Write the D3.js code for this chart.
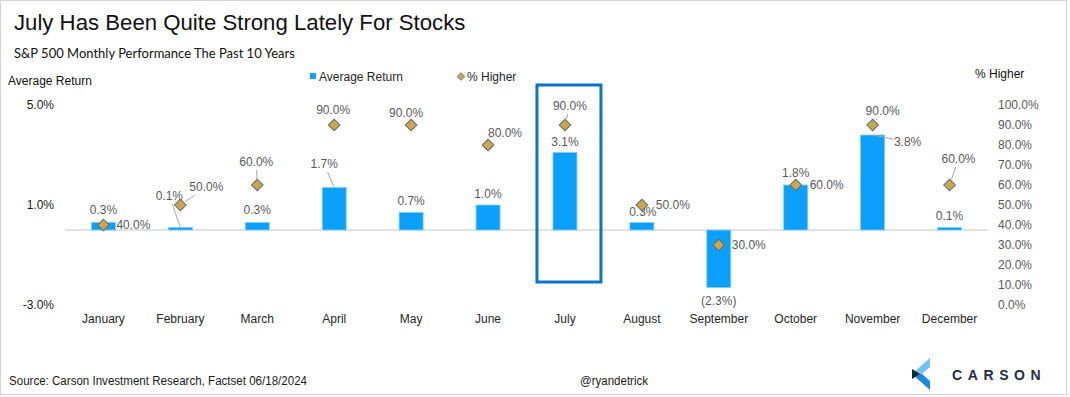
<!DOCTYPE html>
<html>
<head>
<meta charset="utf-8">
<script src="https://cdn.jsdelivr.net/npm/d3@7"></script>
<style>
  html, body { margin: 0; padding: 0; background: #fff; }
  svg text { font-family: "Liberation Sans", Arial, sans-serif; }
</style>
</head>
<body>
<svg id="chart" width="1070" height="397"></svg>
<script>
// data
const months = ["January", "February", "March", "April", "May", "June",
    "July", "August", "September", "October", "November", "December"];
const avgReturn = [0.3, 0.1, 0.3, 1.7, 0.7, 1.0, 3.1, 0.3, -2.3, 1.8, 3.8, 0.1];
const pctHigher = [40, 50, 60, 90, 90, 80, 90, 50, 30, 60, 90, 60];
const leftTicks = [-3, 1, 5];
const rightTicks = [0, 10, 20, 30, 40, 50, 60, 70, 80, 90, 100];

// label placement (Excel put these by hand, so do we): [dx, dy, leader]
const returnLabelNudge = [[0, -12.5], [-11, -31.5, true], [0, -12.5], [-10, -23.5, true],
    [0, -11.5], [0, -11], [0, -10.5], [1, -10.5], [0, 13.5], [0, -12], [35, 7, true], [0, -11.5]];
const pctLabelNudge = [[30, 0], [26, -18, true], [-1, -23, true], [-1, -15], [-5, -12],
    [17, -12], [5, -19, true], [31, 0], [30, 0], [31, 0], [10, -14, true], [9, -26, true]];

const svg = d3.select("#chart");

const x = d3.scaleBand().domain(months).range([65, 988])
    .paddingInner(0.688).paddingOuter(0.344);
const y = d3.scaleLinear().domain([-3, 5]).range([305, 105]);
const y2 = d3.scaleLinear().domain([0, 100]).range([305, 105]);
const cx = m => x(m) + x.bandwidth() / 2;

// frame
svg.append("rect")
    .attr("x", 0.5).attr("y", 0.5).attr("width", 1066).attr("height", 394)
    .attr("fill", "none").attr("stroke", "#d4d4d4");

// titles
svg.append("text").attr("x", 14).attr("y", 30)
    .style("font-size", "22.2px").attr("fill", "#111")
    .text("July Has Been Quite Strong Lately For Stocks");
svg.append("text").attr("x", 14).attr("y", 58)
    .style("font-family", "Lato, 'Open Sans', sans-serif").style("font-size", "13px").attr("fill", "#111")
    .text("S&P 500 Monthly Performance The Past 10 Years");
svg.append("text").attr("x", 8).attr("y", 85)
    .style("font-size", "12px").attr("fill", "#111")
    .text("Average Return");
svg.append("text").attr("x", 975).attr("y", 78)
    .style("font-size", "12px").attr("fill", "#111")
    .text("% Higher");

// legend
const legend = svg.append("g");
legend.append("rect").attr("x", 310).attr("y", 73).attr("width", 6).attr("height", 6).attr("fill", "#0aa0fb");
legend.append("text").attr("x", 319).attr("y", 81).style("font-size", "12px").attr("fill", "#262626").text("Average Return");
legend.append("path").attr("transform", "translate(461,76.5) rotate(45)")
    .attr("d", d3.symbol(d3.symbolSquare, 30)())
    .attr("fill", "#c9a74f").attr("stroke", "#6b6b6b").attr("stroke-width", 0.8);
legend.append("text").attr("x", 467).attr("y", 81).style("font-size", "12px").attr("fill", "#262626").text("% Higher");

// axes
const leftAxis = svg.append("g").attr("transform", "translate(58,0)")
    .call(d3.axisLeft(y).tickValues(leftTicks).tickSize(0).tickPadding(4)
        .tickFormat(d => d.toFixed(1) + "%"));
leftAxis.select(".domain").remove();
leftAxis.selectAll("text").style("font-size", "12px").style("font-family", "Liberation Sans, Arial, sans-serif").attr("fill", "#1a1a1a");

const rightAxis = svg.append("g").attr("transform", "translate(998,0)")
    .call(d3.axisRight(y2).tickValues(rightTicks).tickSize(0).tickPadding(0)
        .tickFormat(d => d.toFixed(1) + "%"));
rightAxis.select(".domain").remove();
rightAxis.selectAll("text").style("font-size", "12px").style("font-family", "Liberation Sans, Arial, sans-serif").attr("fill", "#595959");

const monthAxis = svg.append("g").attr("transform", "translate(0,311)")
    .call(d3.axisBottom(x).tickSize(0).tickPadding(3));
monthAxis.select(".domain").remove();
monthAxis.selectAll("text").style("font-size", "12px").style("font-family", "Liberation Sans, Arial, sans-serif").attr("fill", "#262626");

// zero line
svg.append("line")
    .attr("x1", 65).attr("x2", 988).attr("y1", y(0)).attr("y2", y(0))
    .attr("stroke", "#d9d9d9").attr("stroke-width", 1.5);

// bars
svg.append("g").selectAll("rect")
    .data(months)
    .join("rect")
    .attr("x", m => x(m))
    .attr("width", x.bandwidth())
    .attr("y", (m, i) => y(Math.max(0, avgReturn[i])))
    .attr("height", (m, i) => Math.abs(y(avgReturn[i]) - y(0)))
    .attr("fill", "#0aa0fb")
    .attr("stroke", "#7fcfff").attr("stroke-width", 0.8);

// July highlight box
svg.append("rect")
    .attr("x", cx("July") - 28).attr("y", y(5) - 20)
    .attr("width", 64).attr("height", y(-3) - y(5) - 3)
    .attr("fill", "none").attr("stroke", "#0b74c9").attr("stroke-width", 3);

// leader line helper: from label box edge to the mark
function leader(g, lx, ly, ax, ay, hw, gap) {
    const dx = ax - lx, dy = ay - ly;
    const t = Math.min(dx ? (hw + 1) / Math.abs(dx) : 9, dy ? 8 / Math.abs(dy) : 9);
    const len = Math.hypot(dx, dy);
    g.append("line")
        .attr("x1", lx + dx * t).attr("y1", ly + dy * t)
        .attr("x2", ax - dx / len * gap).attr("y2", ay - dy / len * gap)
        .attr("stroke", "#a6a6a6").attr("stroke-width", 1);
}

const labels = svg.append("g");

// diamonds
svg.append("g").selectAll("path")
    .data(months)
    .join("path")
    .attr("transform", (m, i) => `translate(${cx(m)},${y2(pctHigher[i])}) rotate(45)`)
    .attr("d", d3.symbol(d3.symbolSquare, 68)())
    .attr("fill", "#c9a74f").attr("stroke", "#6b6b6b").attr("stroke-width", 1);

// labels
months.forEach((m, i) => {
    const v = avgReturn[i];
    const ax = cx(m), ay = y(v);
    const [dx, dy, hasLine] = returnLabelNudge[i];
    const txt = v < 0 ? "(" + Math.abs(v).toFixed(1) + "%)" : v.toFixed(1) + "%";
    if (hasLine) leader(labels, ax + dx, ay + dy, ax, ay, 13, 0);
    labels.append("text")
        .attr("x", ax + dx).attr("y", ay + dy).attr("dy", "0.35em")
        .attr("text-anchor", "middle")
        .style("font-size", "12px").attr("fill", "#595959")
        .text(txt);

    const p = pctHigher[i];
    const px = cx(m), py = y2(p);
    const [pdx, pdy, pLine] = pctLabelNudge[i];
    if (pLine) leader(labels, px + pdx, py + pdy, px, py, 17, 6);
    labels.append("text")
        .attr("x", px + pdx).attr("y", py + pdy).attr("dy", "0.35em")
        .attr("text-anchor", "middle")
        .style("font-size", "12px").attr("fill", "#595959")
        .text(p.toFixed(1) + "%");
});

// footer (condensed look, squeezed to the width in the picture)
svg.append("text").attr("x", 9).attr("y", 385)
    .attr("textLength", 298).attr("lengthAdjust", "spacingAndGlyphs")
    .style("font-size", "12.5px").attr("fill", "#1a1a1a")
    .text("Source: Carson Investment Research, Factset 06/18/2024");
svg.append("text").attr("x", 580).attr("y", 385)
    .attr("textLength", 68).attr("lengthAdjust", "spacingAndGlyphs")
    .style("font-size", "12.5px").attr("fill", "#1a1a1a")
    .text("@ryandetrick");

// logo: "<" chevron with a dark notch at the tip
const logo = svg.append("g");
logo.append("polygon").attr("points", "912,374 930,358 930,367 922,374").attr("fill", "#6fc3f7");
logo.append("polygon").attr("points", "912,374 922,374 930,381 930,390").attr("fill", "#1a8ae0");
logo.append("polygon").attr("points", "912,369 920,374 912,379").attr("fill", "#13263f");
logo.append("text").attr("x", 952).attr("y", 380)
    .style("font-size", "14px").style("font-weight", "bold").style("letter-spacing", "5.6px")
    .attr("fill", "#1d2d44").text("CARSON");
</script>
</body>
</html>
